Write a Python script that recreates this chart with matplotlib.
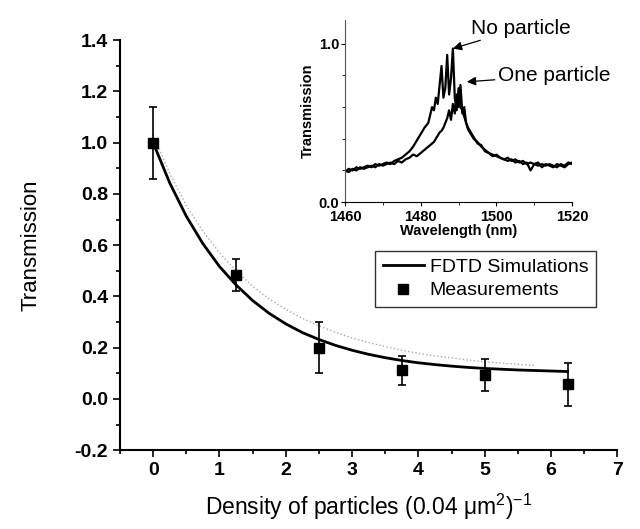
import numpy as np
import matplotlib
matplotlib.use('Agg')
import matplotlib.pyplot as plt
from matplotlib.ticker import MultipleLocator
from matplotlib.lines import Line2D

plt.rcParams['font.family'] = ['Liberation Sans', 'DejaVu Sans']
plt.rcParams['mathtext.fontset'] = 'custom'
plt.rcParams['mathtext.rm'] = 'Liberation Sans'
plt.rcParams['mathtext.it'] = 'Liberation Sans:italic'

# measurements
density = [0, 1.25, 2.5, 3.75, 5.0, 6.25]
trans_meas = [1.00, 0.483, 0.20, 0.112, 0.093, 0.058]
trans_err = [0.14, 0.062, 0.10, 0.057, 0.063, 0.084]

# FDTD simulation curve
sim_x = [0, 0.25, 0.5, 0.75, 1.0, 1.25, 1.5, 1.75, 2.0, 2.25, 2.5, 2.75, 3.0,
         3.25, 3.5, 3.75, 4.0, 4.25, 4.5, 4.75, 5.0, 5.25, 5.5, 5.75, 6.0, 6.25]
sim_y = [1.00, 0.843, 0.713, 0.606, 0.517, 0.445, 0.384, 0.334, 0.293, 0.259,
         0.232, 0.209, 0.190, 0.174, 0.161, 0.150, 0.141, 0.134, 0.128, 0.123,
         0.119, 0.116, 0.113, 0.111, 0.109, 0.107]

# faint dotted curve
dot_x = [0, 0.25, 0.5, 0.75, 1.0, 1.25, 1.5, 1.75, 2.0, 2.25, 2.5, 2.75, 3.0,
         3.25, 3.5, 3.75, 4.0, 4.25, 4.5, 4.75, 5.0, 5.25, 5.5, 5.75]
dot_y = [1.03, 0.88, 0.755, 0.655, 0.57, 0.50, 0.44, 0.39, 0.35, 0.315,
         0.285, 0.26, 0.238, 0.22, 0.204, 0.19, 0.178, 0.168, 0.16, 0.152,
         0.145, 0.14, 0.135, 0.131]

# inset spectra
wl = [1460, 1461, 1462, 1463, 1464, 1465, 1466, 1467, 1468, 1469, 1470, 1471,
      1472, 1473, 1474, 1475, 1476, 1477, 1478, 1479, 1480, 1481, 1482, 1482.5,
      1483, 1483.5, 1484, 1484.5, 1485, 1485.5, 1486, 1486.5, 1487, 1487.5,
      1488, 1488.5, 1489, 1489.5, 1490, 1490.5, 1491, 1491.5, 1492, 1492.5,
      1493, 1494, 1495, 1496, 1497, 1498, 1499, 1500, 1501, 1502, 1503, 1504,
      1505, 1506, 1507, 1508, 1509, 1510, 1511, 1512, 1513, 1514, 1515, 1516,
      1517, 1518, 1519, 1520]
no_particle = [.19, .21, .20, .22, .21, .22, .23, .22, .24, .23, .24, .25,
               .24, .26, .27, .28, .30, .32, .35, .39, .43, .47, .50, .55,
               .60, .58, .66, .62, .74, .86, .66, .72, .93, .68,
               .78, .97, .66, .58, .72, .60, .58, .54, .50, .46,
               .44, .40, .38, .35, .33, .31, .30, .29, .28, .27, .28, .26,
               .27, .25, .26, .24, .25, .24, .23, .24, .23, .24, .23, .22,
               .24, .23, .25, .24]
one_particle = [.20, .19, .21, .20, .22, .21, .22, .23, .22, .24, .23, .24,
                .25, .24, .26, .25, .27, .28, .30, .29, .31, .33, .35, .36,
                .37, .38, .40, .42, .44, .45, .47, .50, .53, .58,
                .52, .62, .56, .68, .60, .74, .56, .60, .50, .47,
                .45, .41, .37, .36, .32, .31, .29, .30, .28, .27, .26, .27,
                .25, .26, .24, .25, .20, .24, .25, .22, .24, .23, .22, .24,
                .23, .22, .24, .25]

fig = plt.figure(figsize=(6.4, 5.29), dpi=100)
ax = fig.add_axes([0.1875, 0.149, 0.777, 0.775])

ax.plot(dot_x, dot_y, ':', color='#aaaaaa', lw=1.0)
ax.plot(sim_x, sim_y, '-', color='black', lw=2.0)
ax.errorbar(density, trans_meas, yerr=trans_err, fmt='s', color='black',
            ms=7.5, ecolor='black', elinewidth=1.2, capsize=3, capthick=1.2)

ax.set_xlim(-0.5, 7)
ax.set_ylim(-0.2, 1.4)
xt = list(range(0, 8))
ax.set_xticks(xt, [str(v) for v in xt], fontweight='bold')
ax.xaxis.set_minor_locator(MultipleLocator(0.5))
yt = np.arange(-0.2, 1.41, 0.2)
ax.set_yticks(yt, ['%.1f' % v for v in yt], fontweight='bold')
ax.yaxis.set_minor_locator(MultipleLocator(0.1))
ax.tick_params(which='major', direction='out', length=5, width=1.2,
               labelsize=14)
ax.tick_params(which='minor', direction='out', length=3, width=1.2)
for s in ['top', 'right']:
    ax.spines[s].set_visible(False)
for s in ['left', 'bottom']:
    ax.spines[s].set_linewidth(1.5)

ax.set_xlabel('Density of particles (0.04 μm$^2$)$^{-1}$', fontsize=16.5,
              labelpad=9)
ax.set_ylabel('Transmission', fontsize=16, labelpad=24)

handles = [Line2D([], [], color='black', lw=2.0),
           Line2D([], [], ls='none', marker='s', color='black', ms=7.5)]
leg = ax.legend(handles, ['FDTD Simulations', 'Measurements'],
                loc='upper left', bbox_to_anchor=(0.513, 0.487), fontsize=14,
                frameon=True, fancybox=False, edgecolor='black',
                handlelength=2.1, borderpad=0.4, labelspacing=0.3,
                handletextpad=0.3, borderaxespad=0)
leg.get_frame().set_linewidth(1.0)

# inset
ins = fig.add_axes([0.539, 0.618, 0.355, 0.344])
ins.plot(wl, no_particle, color='black', lw=1.6)
ins.plot(wl, one_particle, color='black', lw=1.6)
ins.set_xlim(1460, 1520)
ins.set_ylim(0, 1.15)
ins.set_xticks([1460, 1480, 1500, 1520], ['1460', '1480', '1500', '1520'],
               fontweight='bold')
ins.xaxis.set_minor_locator(MultipleLocator(10))
ins.set_yticks([0.0, 1.0], ['0.0', '1.0'], fontweight='bold')
ins.yaxis.set_minor_locator(MultipleLocator(0.2))
ins.tick_params(which='major', direction='out', length=3, labelsize=10.5)
ins.tick_params(axis='x', pad=3)
ins.tick_params(axis='y', pad=1)
ins.tick_params(which='minor', direction='out', length=2)
for s in ['top', 'right']:
    ins.spines[s].set_visible(False)
ins.spines['left'].set_color('#555555')
ins.patch.set_alpha(0)
ins.set_xlabel('Wavelength (nm)', fontsize=10.5, fontweight='bold', labelpad=0)
ins.set_ylabel('Transmission', fontsize=10.5, fontweight='bold', labelpad=3)

ins.annotate('No particle', xy=(1488.5, 0.97), xytext=(1493.3, 1.04),
             fontsize=15, va='bottom',
             arrowprops=dict(arrowstyle='-|>', color='black', lw=0.9,
                             mutation_scale=13, shrinkA=0, shrinkB=0))
ins.annotate('One particle', xy=(1492.2, 0.76), xytext=(1500.3, 0.80),
             fontsize=15, va='center',
             arrowprops=dict(arrowstyle='-|>', color='black', lw=0.9,
                             mutation_scale=13, shrinkA=0, shrinkB=0))

plt.savefig('out.png', dpi=100)
